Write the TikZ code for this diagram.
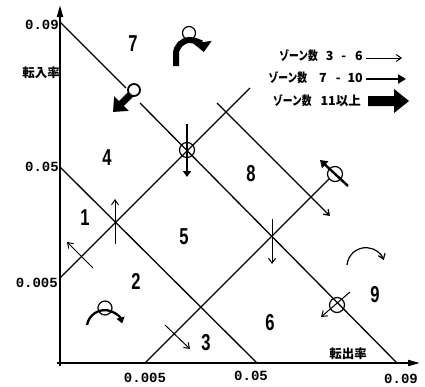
\documentclass[tikz,border=0pt]{standalone}
\usepackage{fontspec}
\setmainfont{Liberation Sans}
\newfontfamily\jp{Noto Sans CJK JP}
\newfontfamily\mono{Liberation Mono}
\usetikzlibrary{arrows.meta}
\newcommand{\zn}{\scalebox{0.78}[1]{ゾーン数}}
\begin{document}
\begin{tikzpicture}[x=1pt,y=-1pt,
  gridline/.style={line width=1.3pt},
  axisline/.style={line width=2pt,-{Triangle[length=12pt,width=6pt]}},
  thinarr/.style={line width=1pt,-{Straight Barb[length=5pt,width=7pt]}},
  medarr/.style={line width=2.4pt,-{Triangle[length=6pt,width=8pt]}},
  thickarr/.style={line width=7pt,-{Triangle[length=12pt,width=20pt]}},
  region/.style={font=\bfseries\fontsize{23}{23}\selectfont},
  ticklab/.style={font=\mono\bfseries\fontsize{14}{14}\selectfont,inner sep=1pt},
  jlab/.style={font=\jp\bfseries\fontsize{12.5}{12.5}\selectfont,inner sep=1pt},
  ring/.style={circle,draw,line width=1.2pt,minimum size=15pt,inner sep=0pt}
]
\useasboundingbox[fill=white] (0,0) rectangle (425,386);

% axes
\coordinate (o) at (60,363);
\coordinate (ytop) at (60,5);
\coordinate (xend) at (420,363);
\draw[axisline] (60,366) -- (ytop);
\draw[axisline] (57,363) -- (xend);

% key points
\coordinate (a0) at (60,22);   \coordinate (a1) at (397,363);
\coordinate (b0) at (60,167);  \coordinate (b1) at (257,363);
\coordinate (c0) at (217,103); \coordinate (c1) at (330,216);
\coordinate (d0) at (145,363); \coordinate (d1) at (329,179);
\coordinate (e0) at (60,278);  \coordinate (e1) at (250,88);
\coordinate (a0b) at (126,88); \coordinate (a1b) at (140,103);

% grid lines
\draw[gridline] (a0) -- (a0b);
\draw[gridline] (a1b) -- (a1);
\draw[gridline] (b0) -- (b1);
\draw[gridline,-{Straight Barb[length=5pt,width=7pt]}] (c0) -- (c1);
\draw[gridline] (d0) -- (d1);
\draw[gridline] (e0) -- (e1);

% short perpendicular arrows
\coordinate (p1s) at (93,268); \coordinate (p1e) at (67,242);
\draw[thinarr] (p1s) -- (p1e);
\coordinate (p2s) at (165,325); \coordinate (p2e) at (190,349);
\draw[thinarr] (p2s) -- (p2e);

% vertical arrows
\coordinate (v1s) at (115,244); \coordinate (v1e) at (115,199);
\draw[thinarr] (v1s) -- (v1e);
\coordinate (v2s) at (272,219); \coordinate (v2e) at (272,264);
\draw[thinarr] (v2s) -- (v2e);
\node[ring] (r1) at (187,150) {};
\coordinate (v3s) at (187,124); \coordinate (v3e) at (187,177);
\draw[medarr] (v3s) -- (v3e);

% ring on line A lower right
\node[ring] (r2) at (337,305) {};
\coordinate (w1s) at (350,292); \coordinate (w1e) at (321,317);
\draw[thinarr] (w1s) -- (w1e);

% ring at end of line D
\node[ring] (r3) at (335,174) {};
\coordinate (w2s) at (348,186); \coordinate (w2e) at (320,160);
\draw[line width=2.4pt,-{Triangle[length=7pt,width=9pt]}] (w2s) -- (w2e);

% thick arrow SW with ring
\coordinate (w3s) at (132,93); \coordinate (w3e) at (113,112);
\draw[thickarr] (w3s) -- (w3e);
\node[ring,fill=white,minimum size=12pt,line width=1.8pt] (r4) at (134,90) {};

% curved arrows
\node[ring,minimum size=13pt] (r5) at (189,33) {};
\draw[line width=6pt,-{Triangle[length=10pt,width=18pt]}] (176,66) -- (176,54) arc[start angle=180,end angle=352,radius=14];
\draw[line width=2.3pt,-{Triangle[length=6pt,width=8pt]}] (87,325) arc[start angle=190,end angle=345,radius=18];
\node[ring,minimum size=14pt] (r6) at (105,308) {};
\draw[line width=1.2pt,-{Straight Barb[length=5pt,width=7pt]}] (347,265) arc[start angle=185,end angle=340,radius=19];

% region numbers
\node[region] (n7) at (133,44) {\scalebox{0.72}[1]{7}};
\node[region] (n4) at (107,158) {\scalebox{0.72}[1]{4}};
\node[region] (n1) at (85,218) {\scalebox{0.72}[1]{1}};
\node[region] (n5) at (184,237) {\scalebox{0.72}[1]{5}};
\node[region] (n2) at (136,281) {\scalebox{0.72}[1]{2}};
\node[region] (n3) at (206,343) {\scalebox{0.72}[1]{3}};
\node[region] (n6) at (270,323) {\scalebox{0.72}[1]{6}};
\node[region] (n8) at (251,174) {\scalebox{0.72}[1]{8}};
\node[region] (n9) at (375,295) {\scalebox{0.72}[1]{9}};

% tick labels
\node[ticklab,anchor=east] (ty1) at (60,25) {0.09};
\node[ticklab,anchor=east] (ty2) at (60,167) {0.05};
\node[ticklab,anchor=east] (ty3) at (59,283) {0.005};
\node[ticklab] (tx1) at (145,378) {0.005};
\node[ticklab] (tx2) at (251,376) {0.05};
\node[ticklab] (tx3) at (401,379) {0.09};

% axis titles
\node[jlab,anchor=east] (yl) at (61,73) {転入率};
\node[jlab] (xl) at (348,354) {転出率};

% legend
\node[jlab,anchor=east] (l1) at (364,56) {\zn\hspace{8pt}3\hspace{8pt}-\hspace{9pt}6};
\node[jlab,anchor=east] (l2) at (364,78) {\zn\hspace{12pt}7\hspace{9pt}-\hspace{7pt}10};
\node[jlab,anchor=east] (l3) at (362,101) {\zn\hspace{9pt}11以上};
\coordinate (k1s) at (366,58); \coordinate (k1e) at (402,58);
\draw[thinarr] (k1s) -- (k1e);
\coordinate (k2s) at (366,79); \coordinate (k2e) at (406,79);
\draw[line width=2.6pt,-{Triangle[length=8pt,width=9pt]}] (k2s) -- (k2e);
\fill (368,96) -- (394,96) -- (394,89) -- (409,101) -- (394,113) -- (394,106) -- (368,106) -- cycle;
\end{tikzpicture}
\end{document}
